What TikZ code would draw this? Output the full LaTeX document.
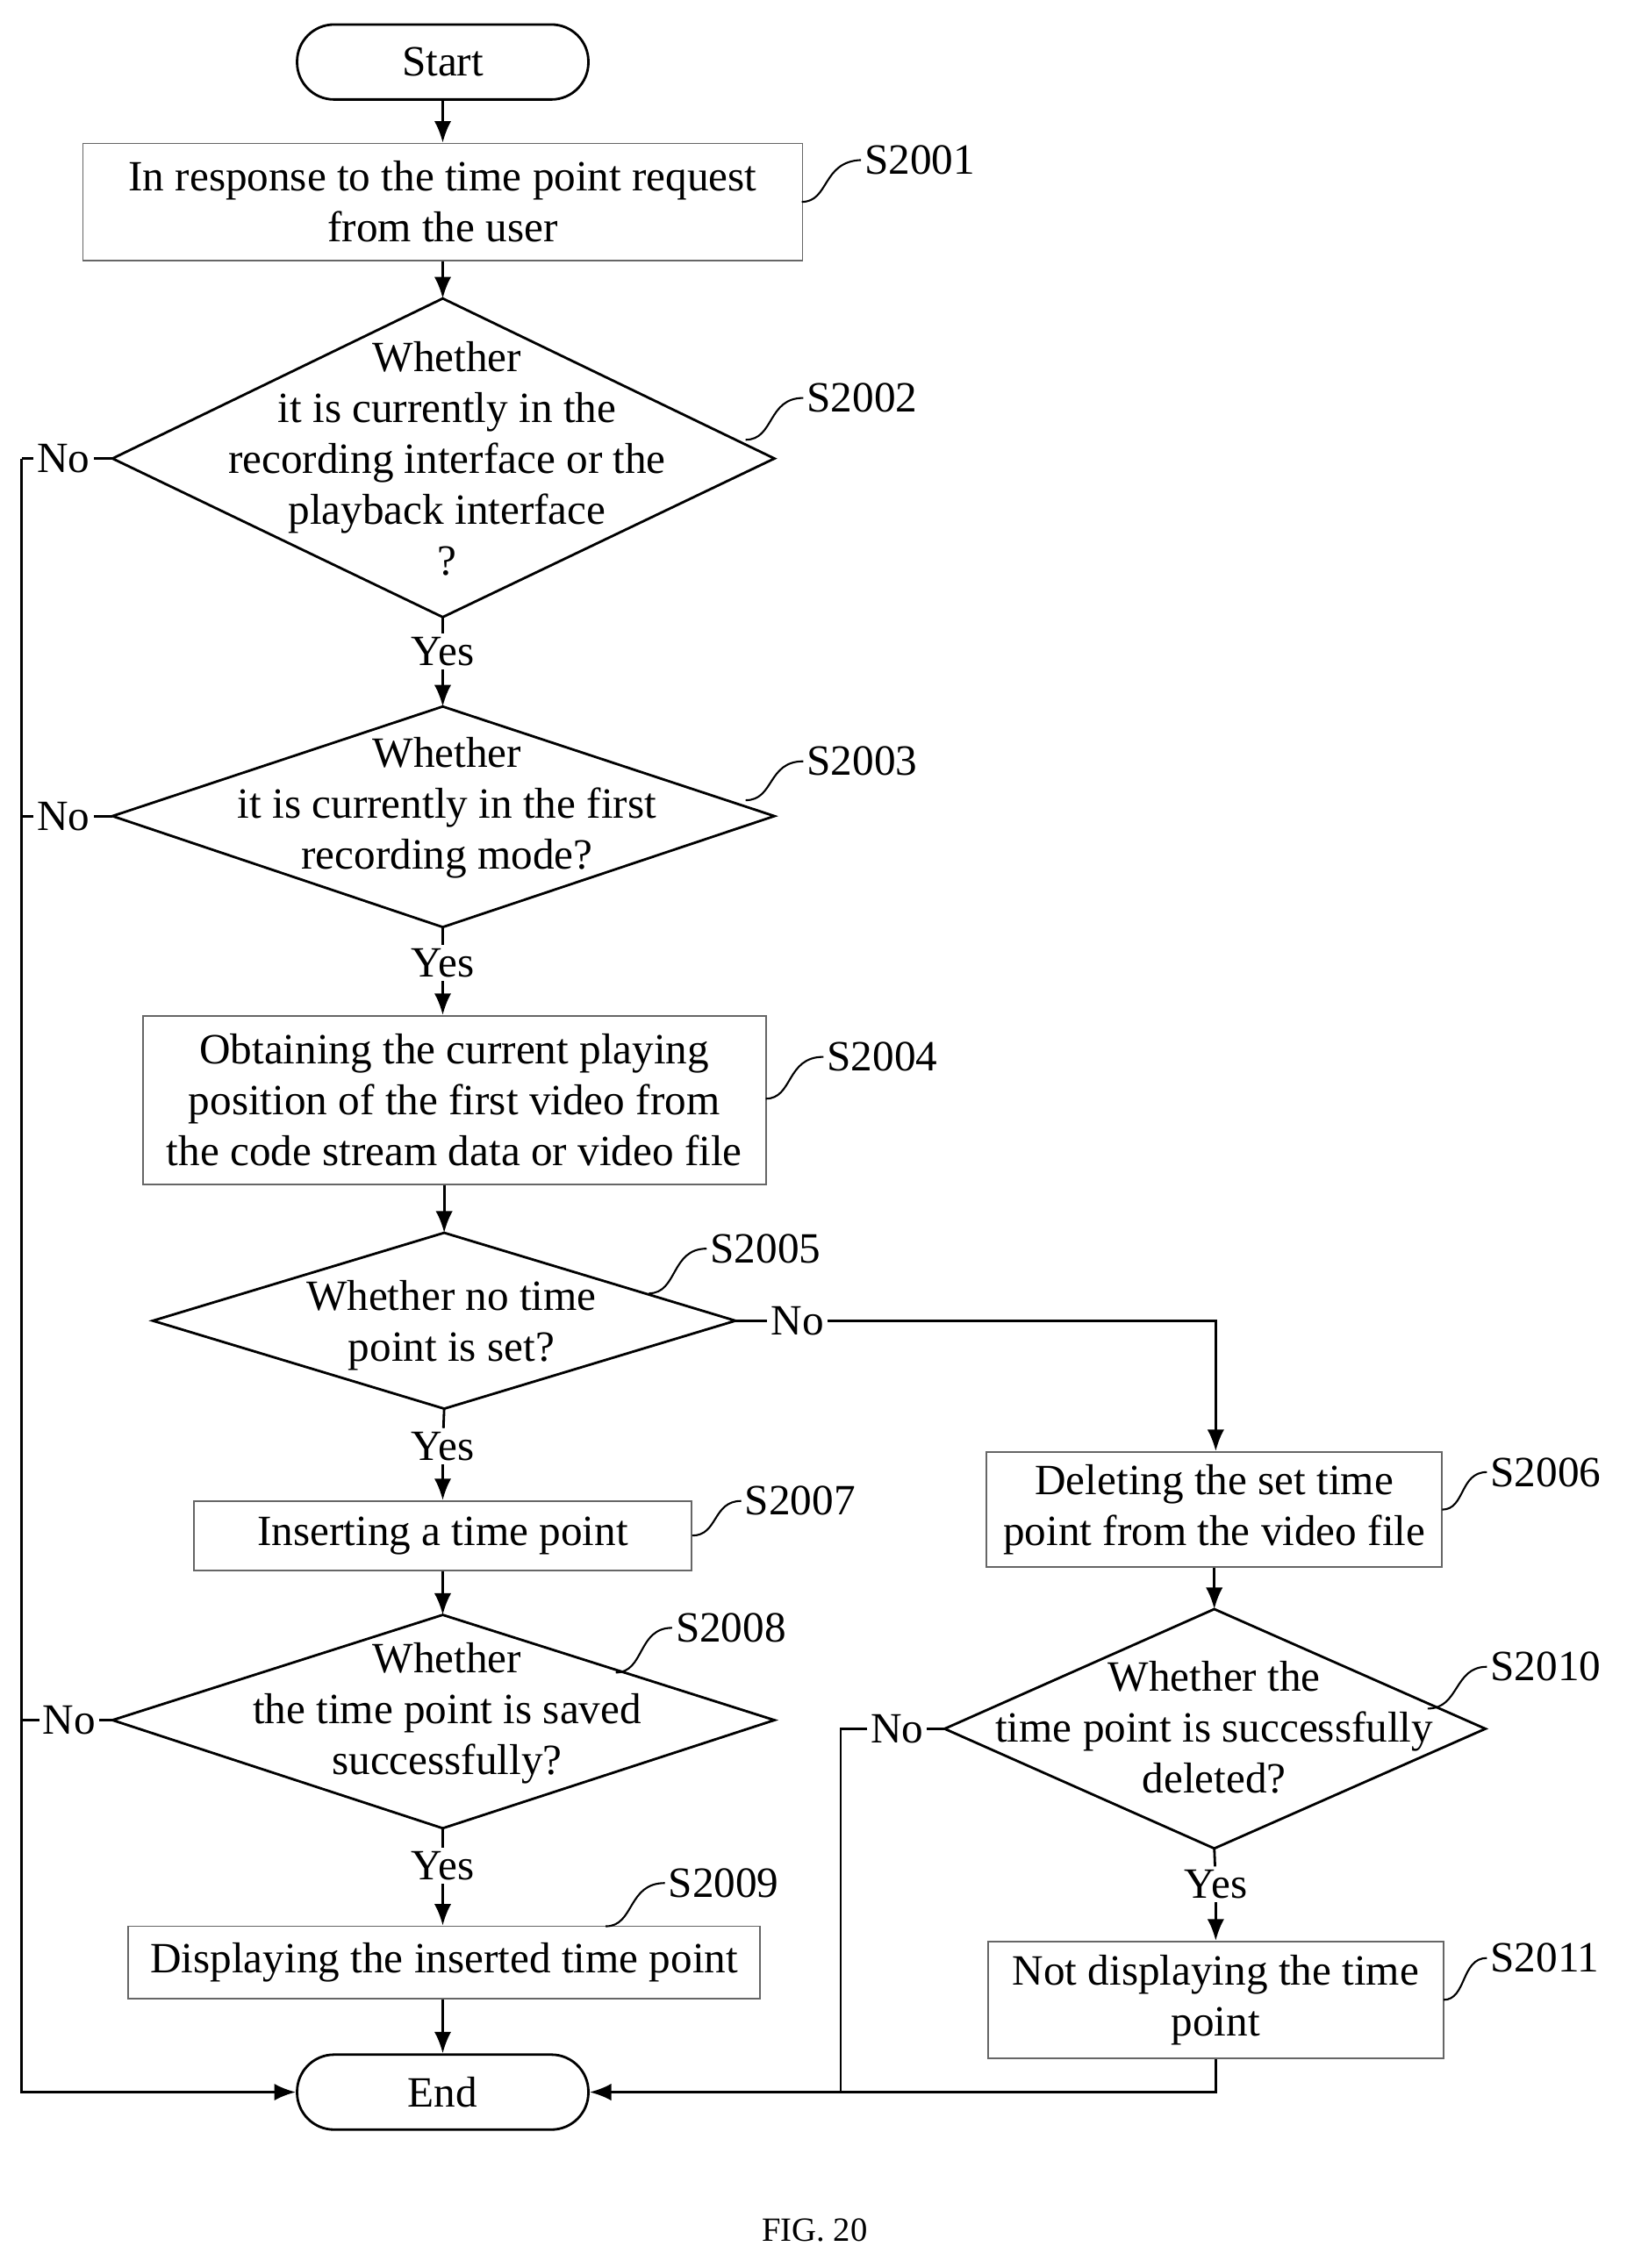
\documentclass[tikz,border=0pt]{standalone}
\usepackage{fontspec}
\setmainfont{Liberation Serif}
\usetikzlibrary{arrows.meta}
\begin{document}
\begin{tikzpicture}[x=0.016436cm,y=-0.016436cm,
  box/.style={draw=black!60,line width=0.5pt,inner sep=0pt,align=center,font=\fontsize{14}{16.5}\selectfont},
  txt/.style={align=center,font=\fontsize{14}{16.5}\selectfont,inner sep=1pt},
  dia/.style={draw=black,line width=0.8pt},
  term/.style={draw=black,line width=0.8pt,rounded corners=12pt,minimum width=202*0.016436cm,minimum height=52*0.016436cm,font=\fontsize{14}{16.5}\selectfont},
  line/.style={line width=0.8pt},
  arr/.style={line width=0.8pt,-{Latex[length=7pt,width=5.5pt]}},
  tick/.style={line width=0.6pt}]
\useasboundingbox (0,0) rectangle (1128,1573);
% terminals
\node[term] (start) at (307,43) {Start};
\node[term] (end) at (307,1451) {End};
% boxes
\node[box,minimum width=499*0.016436cm,minimum height=81*0.016436cm] (s2001) at (307,140) {In response to the time point request\\from the user};
\node[box,minimum width=432*0.016436cm,minimum height=117*0.016436cm] (s2004) at (315,763) {Obtaining the current playing\\position of the first video from\\the code stream data or video file};
\node[box,minimum width=345*0.016436cm,minimum height=48*0.016436cm] (s2007) at (307,1065) {Inserting a time point};
\node[box,minimum width=438*0.016436cm,minimum height=50*0.016436cm] (s2009) at (308,1361) {Displaying the inserted time point};
\node[box,minimum width=316*0.016436cm,minimum height=80*0.016436cm] (s2006) at (842,1047) {Deleting the set time\\point from the video file};
\node[box,minimum width=316*0.016436cm,minimum height=81*0.016436cm] (s2011) at (843,1387) {Not displaying the time\\point};
% diamonds
\coordinate (d2t) at (307,207); \coordinate (d2b) at (307,428); \coordinate (d2l) at (78,318); \coordinate (d2r) at (537,318);
\draw[dia] (d2t)--(d2r)--(d2b)--(d2l)--cycle;
\node[txt] (d2) at (310,318) {Whether\\it is currently in the\\recording interface or the\\playback interface\\?};
\coordinate (d3t) at (307,490); \coordinate (d3b) at (307,643); \coordinate (d3l) at (78,566); \coordinate (d3r) at (537,566);
\draw[dia] (d3t)--(d3r)--(d3b)--(d3l)--cycle;
\node[txt] (d3) at (310,560) {Whether\\it is currently in the first\\recording mode?};
\coordinate (d5t) at (308,855); \coordinate (d5b) at (308,977); \coordinate (d5l) at (106,916); \coordinate (d5r) at (510,916);
\draw[dia] (d5t)--(d5r)--(d5b)--(d5l)--cycle;
\node[txt] (d5) at (313,919) {Whether no time\\point is set?};
\coordinate (d8t) at (307,1120); \coordinate (d8b) at (307,1268); \coordinate (d8l) at (78,1193); \coordinate (d8r) at (537,1193);
\draw[dia] (d8t)--(d8r)--(d8b)--(d8l)--cycle;
\node[txt] (d8) at (310,1188) {Whether\\the time point is saved\\successfully?};
\coordinate (d10t) at (842,1116); \coordinate (d10b) at (842,1282); \coordinate (d10l) at (655,1199); \coordinate (d10r) at (1030,1199);
\draw[dia] (d10t)--(d10r)--(d10b)--(d10l)--cycle;
\node[txt] (d10) at (842,1198) {Whether the\\time point is successfully\\deleted?};
% yes labels
\node[txt,fill=white] (y2) at (307,452) {Yes};
\node[txt,fill=white] (y3) at (307,668) {Yes};
\node[txt,fill=white] (y5) at (307,1003) {Yes};
\node[txt,fill=white] (y8) at (307,1294) {Yes};
\node[txt,fill=white] (y10) at (843,1307) {Yes};
% no labels
\node[txt] (n2) at (44,318) {No};
\node[txt] (n3) at (44,566) {No};
\node[txt] (n8) at (48,1193) {No};
\node[txt] (n10) at (622,1199) {No};
\node[txt] (n5) at (553,916) {No};
\coordinate (lx2) at (15,318); \coordinate (lx3) at (15,566); \coordinate (lx8) at (15,1193);
\coordinate (lxe) at (15,1451); \coordinate (rx) at (583,1199); \coordinate (rxe) at (583,1451);
\coordinate (c5) at (843,916);
% connectors
\draw[arr] (start)--(s2001);
\draw[arr] (s2001)--(d2t);
\draw[line] (d2b)--(y2); \draw[arr] (y2)--(d3t);
\draw[line] (d3b)--(y3); \draw[arr] (y3)--(s2004.north-|y3);
\draw[arr] (s2004.south-|d5t)--(d5t);
\draw[line] (d5b)--(y5); \draw[arr] (y5)--(s2007);
\draw[arr] (s2007)--(d8t);
\draw[line] (d8b)--(y8); \draw[arr] (y8)--(s2009.north-|y8);
\draw[arr] (s2009.south-|end)--(end);
\draw[line] (d5r)--(n5.west); \draw[arr] (n5.east)--(c5)--(s2006.north-|c5);
\draw[arr] (s2006)--(d10t);
\draw[line] (d10b)--(y10); \draw[arr] (y10)--(s2011);
\draw[arr] (s2011.south)--(s2011.south|-end)--(end);
\draw[line] (d2l)--(n2.east); \draw[line] (n2.west)--(lx2);
\draw[line] (d3l)--(n3.east); \draw[line] (n3.west)--(lx3);
\draw[line] (d8l)--(n8.east); \draw[line] (n8.west)--(lx8);
\draw[arr] (lx2)--(lxe)--(end);
\draw[line] (d10l)--(n10.east); \draw[line] (n10.west)--(rx)--(rxe);
% step labels
\node[txt,anchor=west] (l1) at (597,111) {S2001};
\node[txt,anchor=west] (l2) at (557,276) {S2002};
\node[txt,anchor=west] (l3) at (557,528) {S2003};
\node[txt,anchor=west] (l4) at (571,733) {S2004};
\node[txt,anchor=west] (l5) at (490,866) {S2005};
\node[txt,anchor=west] (l7) at (514,1041) {S2007};
\node[txt,anchor=west] (l8) at (466,1129) {S2008};
\node[txt,anchor=west] (l9) at (461,1306) {S2009};
\node[txt,anchor=west] (l6) at (1031,1021) {S2006};
\node[txt,anchor=west] (l10) at (1031,1156) {S2010};
\node[txt,anchor=west] (l11) at (1031,1358) {S2011};
\draw[tick] (556,140) .. controls (575,140) and (570,112) .. (l1.west);
\draw[tick] (517,305) .. controls (537,305) and (532,276) .. (l2.west);
\draw[tick] (517,555) .. controls (537,555) and (532,528) .. (l3.west);
\draw[tick] (531,762) .. controls (550,762) and (545,733) .. (l4.west);
\draw[tick] (450,897) .. controls (470,897) and (465,866) .. (l5.west);
\draw[tick] (480,1065) .. controls (498,1065) and (494,1041) .. (l7.west);
\draw[tick] (427,1160) .. controls (447,1160) and (442,1129) .. (l8.west);
\draw[tick] (420,1336) .. controls (440,1336) and (435,1306) .. (l9.west);
\draw[tick] (1000,1047) .. controls (1016,1047) and (1012,1021) .. (l6.west);
\draw[tick] (990,1185) .. controls (1012,1185) and (1008,1156) .. (l10.west);
\draw[tick] (1001,1387) .. controls (1017,1387) and (1013,1358) .. (l11.west);
\node[font=\fontsize{11}{13}\selectfont] (fig) at (565,1547) {FIG. 20};
\end{tikzpicture}
\end{document}
